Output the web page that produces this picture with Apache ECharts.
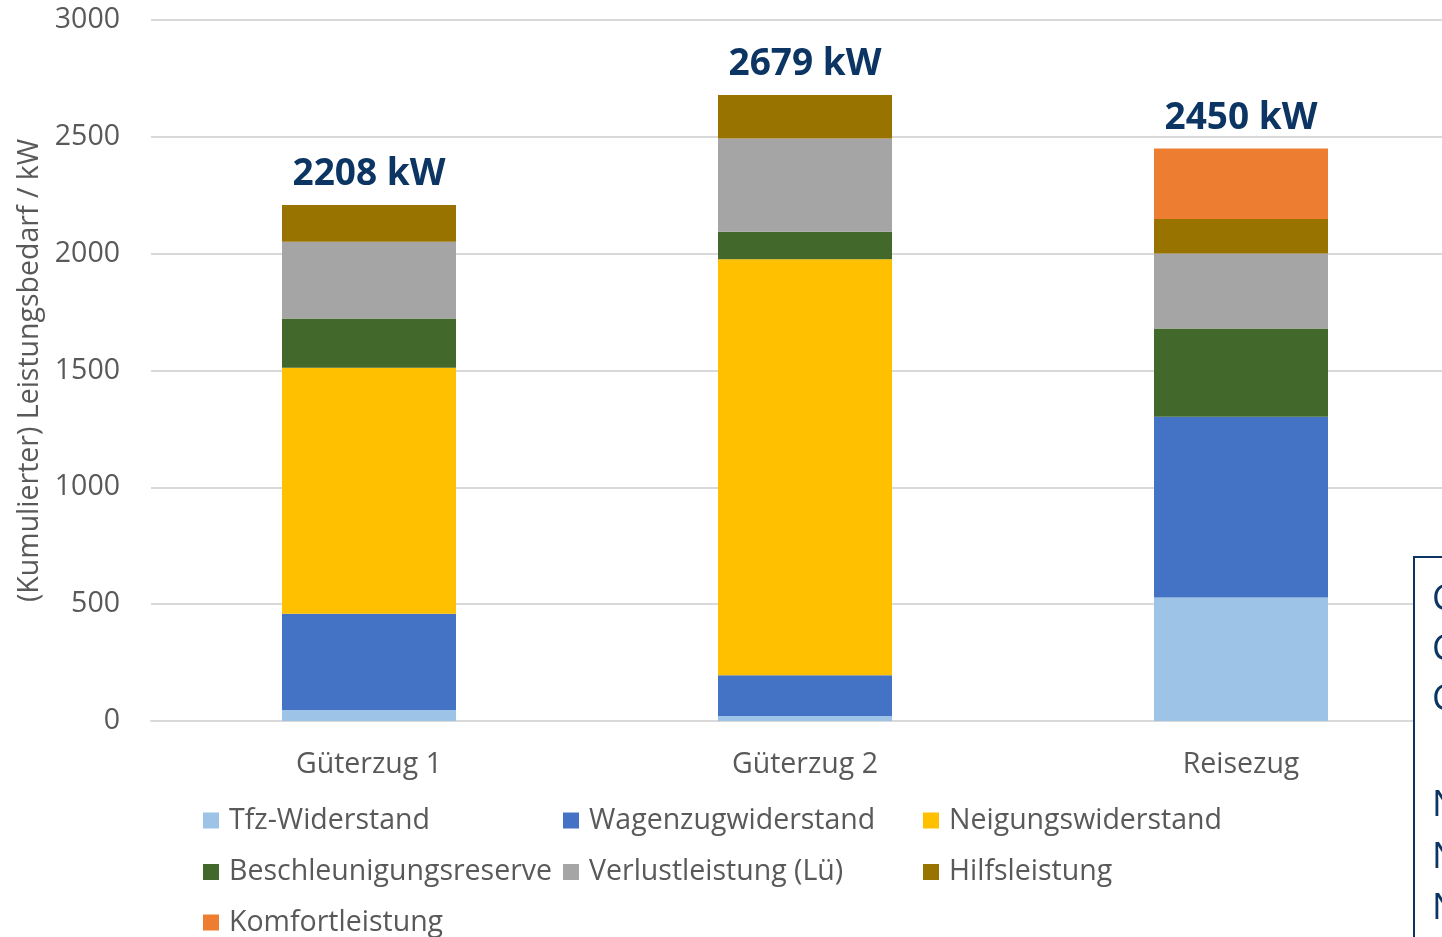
<!DOCTYPE html>
<html>
<head>
<meta charset="utf-8">
<script src="https://cdn.jsdelivr.net/npm/echarts@6/dist/echarts.min.js"></script>
<style>
  html, body { margin: 0; padding: 0; background: #fff; }
  #chart { width: 1442px; height: 937px; }
</style>
</head>
<body>
<div id="chart"></div>
<script>
// categories and values (kW)
const categories = ['Güterzug 1', 'Güterzug 2', 'Reisezug']
const tfzWiderstand = [47, 21, 528]
const wagenzugWiderstand = [412, 175, 774]
const neigungsWiderstand = [1053, 1780, 0]
const beschleunigungsreserve = [211, 118, 378]
const verlustleistung = [328, 399, 321]
const hilfsleistung = [157, 186, 147]
const komfortleistung = [0, 0, 302]
const totals = [2208, 2679, 2450]
const yTicks = [0, 500, 1000, 1500, 2000, 2500, 3000]

const font = 'Open Sans'
const grey = '#595959'
const fs = 28.5

const seriesDefs = [
  { name: 'Tfz-Widerstand', data: tfzWiderstand, color: '#9DC3E6' },
  { name: 'Wagenzugwiderstand', data: wagenzugWiderstand, color: '#4472C4' },
  { name: 'Neigungswiderstand', data: neigungsWiderstand, color: '#FFC000' },
  { name: 'Beschleunigungsreserve', data: beschleunigungsreserve, color: '#43682B' },
  { name: 'Verlustleistung (Lü)', data: verlustleistung, color: '#A5A5A5' },
  { name: 'Hilfsleistung', data: hilfsleistung, color: '#997300' },
  { name: 'Komfortleistung', data: komfortleistung, color: '#ED7D31' }
]

let series = seriesDefs.map(s => ({
  name: s.name,
  type: 'bar',
  stack: 'sum',
  barWidth: 174,
  data: s.data,
  itemStyle: { color: s.color },
  emphasis: { disabled: true }
}))

// invisible top segment carrying the total label
series.push({
  name: 'Gesamt',
  type: 'bar',
  stack: 'sum',
  barWidth: 174,
  data: totals.map(() => 0),
  itemStyle: { color: 'transparent' },
  label: {
    show: true,
    position: 'top',
    distance: 12,
    formatter: p => totals[p.dataIndex] + ' kW',
    fontFamily: font,
    fontWeight: 'bold',
    fontSize: 37,
    color: '#0d3563'
  }
})

const legendBase = {
  orient: 'vertical',
  padding: 0,
  itemWidth: 16,
  itemHeight: 16,
  itemGap: 22.5,
  icon: 'rect',
  textStyle: { fontFamily: font, fontSize: fs, color: grey, padding: [0, 0, 0, 5] }
}

let myChart = echarts.init(document.getElementById('chart'))
myChart.setOption({
  animation: false,
  grid: { left: 151, top: 20, width: 1308, bottom: 216, outerBoundsMode: 'none' },
  legend: [
    Object.assign({ left: 203, top: 806, data: ['Tfz-Widerstand', 'Beschleunigungsreserve'] }, legendBase),
    Object.assign({ left: 203, top: 908, data: ['Komfortleistung'] }, legendBase),
    Object.assign({ left: 563, top: 806, data: ['Wagenzugwiderstand', 'Verlustleistung (Lü)'] }, legendBase),
    Object.assign({ left: 923, top: 806, data: ['Neigungswiderstand', 'Hilfsleistung'] }, legendBase)
  ],
  xAxis: {
    type: 'category',
    data: categories,
    axisTick: { show: false },
    axisLine: { lineStyle: { color: '#d9d9d9', width: 2 } },
    axisLabel: { fontFamily: font, fontSize: fs, color: grey, margin: 29 }
  },
  yAxis: {
    type: 'value',
    min: yTicks[0],
    max: yTicks[yTicks.length - 1],
    interval: 500,
    name: '(Kumulierter) Leistungsbedarf / kW',
    nameLocation: 'middle',
    nameRotate: 90,
    nameGap: 95,
    nameTextStyle: { fontFamily: font, fontSize: fs, color: grey },
    axisLabel: { fontFamily: font, fontSize: fs, color: grey, margin: 31, formatter: v => String(v) },
    splitLine: { lineStyle: { color: '#d9d9d9', width: 2 } }
  },
  series: series,
  graphic: [
    {
      type: 'rect',
      left: 1413,
      top: 556,
      shape: { width: 120, height: 400 },
      style: { fill: '#fff', stroke: '#0d3563', lineWidth: 2 },
      z: 100
    },
    ...[598, 648, 698].map(y => ({
      type: 'text', left: 1432, top: y - 16, z: 101,
      style: { text: 'C', fontFamily: font, fontSize: 36, fill: '#0d3563' }
    })),
    ...[803, 855, 906].map(y => ({
      type: 'text', left: 1432, top: y - 15, z: 101,
      style: { text: 'N', fontFamily: font, fontSize: 36, fill: '#0d3563' }
    }))
  ]
})
</script>
</body>
</html>
